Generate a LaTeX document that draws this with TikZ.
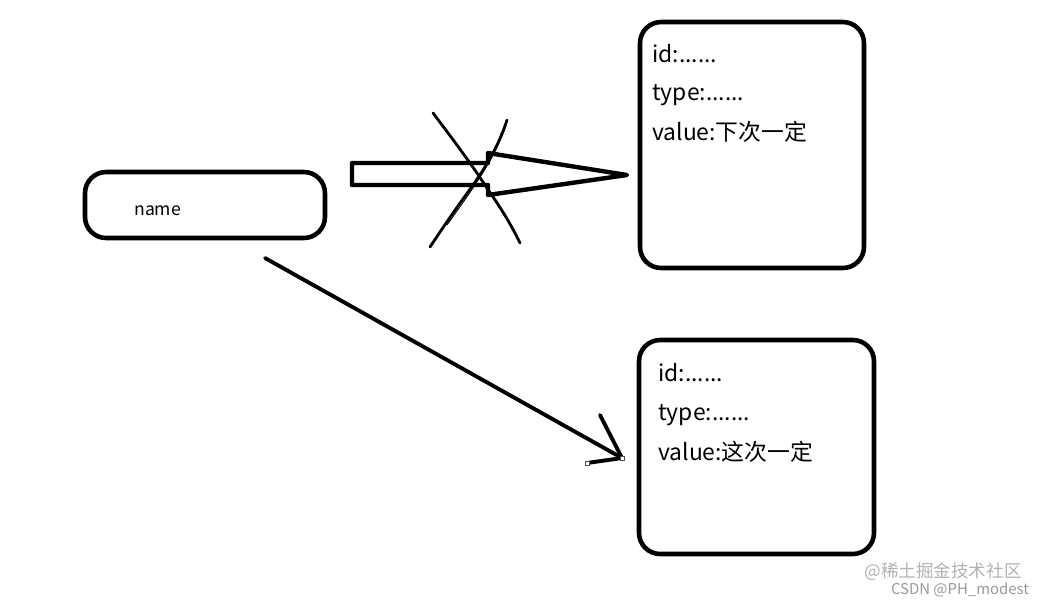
\documentclass[tikz,border=0pt]{standalone}
\usepackage{fontspec}
\usetikzlibrary{calc}
\newfontfamily\cjk{Noto Sans CJK SC}
\tikzset{
  box/.style={draw, line width=2.6pt, rounded corners=12pt, inner sep=0pt},
  boxtext/.style={anchor=base west, inner sep=0pt, font=\cjk\fontsize{13}{15}\selectfont},
  mark text/.style={inner sep=0pt, font=\cjk\fontsize{10}{11}\selectfont},
  handle/.style={draw=black!70, fill=white, line width=0.4pt}
}
\begin{document}
\begin{tikzpicture}[x=0.02cm,y=-0.02cm]
              \useasboundingbox (0,0) rectangle (1041,603);
              % The key box on the left
              \node[box, minimum width=4.8cm, minimum height=1.32cm] (namebox) at (205,205) {};
              \node[anchor=base west, inner sep=0pt, font=\cjk\fontsize{10}{12}\selectfont] (nametext) at (134,215) {name};
              % Upper value box
              \node[box, minimum width=4.48cm, minimum height=4.92cm] (topbox) at (752,145) {};
              \node[boxtext] (topid) at (652,62) {id:......};
              \node[boxtext] (toptype) at (652,100) {type:......};
              \node[boxtext] (topvalue) at (652,140) {value:下次一定};
              % Lower value box
              \node[box, minimum width=4.7cm, minimum height=4.28cm] (botbox) at (756.5,447) {};
              \node[boxtext] (botid) at (658,381) {id:......};
              \node[boxtext] (bottype) at (658,420) {type:......};
              \node[boxtext] (botvalue) at (658,460) {value:这次一定};
              % Block arrow towards the upper box, crossed out
              \draw[line width=2.5pt, line join=round] (352,163) -- (488,163) -- (488,153) -- (627,175)
                -- (488,195) -- (488,185) -- (352,185) -- cycle;
              \draw[line width=1.6pt, line cap=round] (433,113) .. controls (455,142) and (468,160) .. (479,176)
                .. controls (492,196) and (506,214) .. (520,243);
              \draw[line width=1.6pt, line cap=round] (507,120) .. controls (498,148) and (484,170) .. (468,192)
                .. controls (452,214) and (440,232) .. (430,247);
              \draw[line width=0.5pt] (505,128) .. controls (494,158) and (478,182) .. (447,225);
              % Thin arrow towards the lower box
              \coordinate (tail) at (265,258);
              \coordinate (tip) at (622,458);
              \coordinate (wingA) at (600,415);
              \coordinate (wingB) at (587,463);
              \draw[line width=2.2pt, line cap=round] (tail) -- (tip);
              \draw[line width=2.2pt, line cap=round] (wingA) -- (tip);
              \draw[line width=2.2pt] (wingB) -- (tip);
              \draw[handle] ($(wingB)+(-2,-2)$) rectangle ($(wingB)+(2,2)$);
              \draw[handle] ($(tip)+(-2,-2)$) rectangle ($(tip)+(2,2)$);
              % Watermarks
              \node[mark text, text=black!30] (markA) at (943,572) {@稀土掘金技术社区};
              \node[mark text, text=black!40, font=\cjk\fontsize{8.5}{10}\selectfont] (markB) at (960,590) {CSDN @PH\_modest};
            \end{tikzpicture}
\end{document}
